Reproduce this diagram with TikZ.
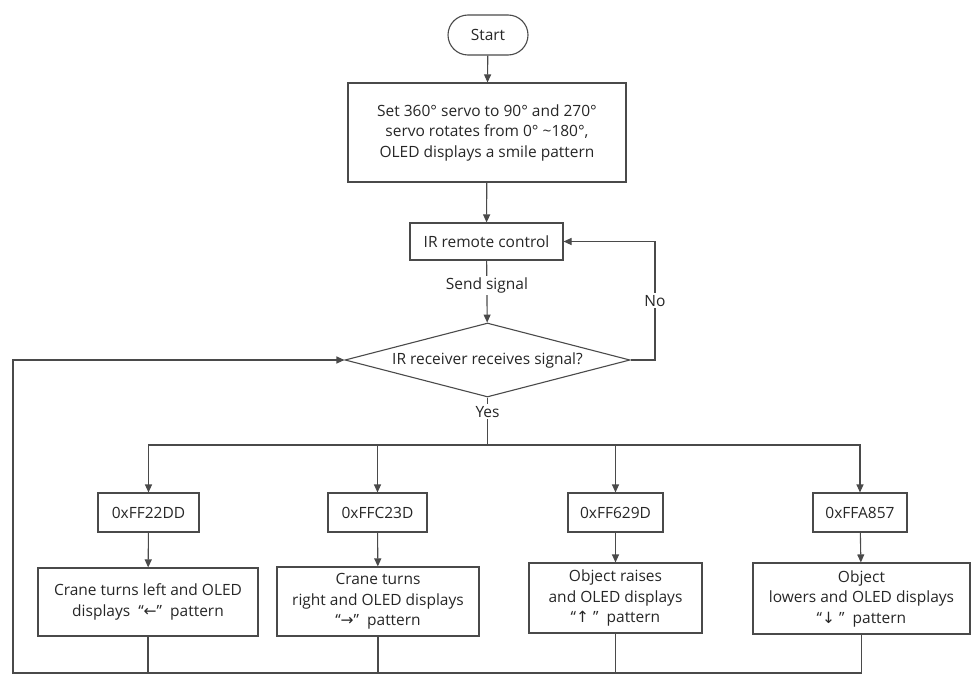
\documentclass[tikz,border=0pt]{standalone}
\usepackage{fontspec}
\setmainfont{Open Sans}
\newfontfamily\arrowfont{DejaVu Sans}
\usetikzlibrary{shapes.geometric,arrows.meta}
\definecolor{ink}{HTML}{262626}
\definecolor{edge}{HTML}{4A4A4A}
\newcommand{\arr}[1]{{\arrowfont #1}}

\begin{document}
\begin{tikzpicture}[x=1pt,y=-1pt,
  every node/.style={font=\fontsize{15.5}{20.5}\selectfont, text=ink},
  box/.style={draw=edge, line width=1.1pt, rectangle, inner sep=0pt, align=center},
  terminal/.style={box, rounded corners=20pt},
  decision/.style={draw=edge, line width=1.1pt, diamond, inner sep=0pt, shape aspect=3.85},
  link/.style={draw=edge, line width=1.1pt},
  flow/.style={link, -{Triangle[length=8pt,width=7pt]}},
  lbl/.style={fill=white, inner sep=2pt}]

\useasboundingbox (0,0) rectangle (978,685);

% main column
\node[terminal, minimum width=80pt, minimum height=40pt] (start) at (488,35) {Start};
\node[box, minimum width=278pt, minimum height=99pt] (setup) at (487,132.5)
  {Set 360° servo to 90° and 270°\\ servo rotates from 0° \textasciitilde180°,\\ OLED displays a smile pattern};
\node[box, minimum width=153pt, minimum height=37pt] (remote) at (486.5,241.5) {IR remote control};
\node[decision, minimum width=285pt, minimum height=74pt] (recv) at (487.5,360) {IR receiver receives signal?};

% key codes
\node[box, minimum width=101pt, minimum height=39pt] (k1) at (148.5,512.5) {0xFF22DD};
\node[box, minimum width=99pt, minimum height=39pt]  (k2) at (377.5,512.5) {0xFFC23D};
\node[box, minimum width=95pt, minimum height=39pt]  (k3) at (615.5,512.5) {0xFF629D};
\node[box, minimum width=94pt, minimum height=39pt]  (k4) at (860,512.5) {0xFFA857};

% actions
\node[box, minimum width=220pt, minimum height=68pt] (a1) at (148,602)
  {Crane turns left and OLED\\ displays \ “\arr{←}” \ pattern};
\node[box, minimum width=202pt, minimum height=69pt] (a2) at (378,601.5)
  {Crane turns\\ right and OLED displays\\ “\arr{→}” \ pattern};
\node[box, minimum width=173pt, minimum height=70pt] (a3) at (615.5,598)
  {Object raises\\ and OLED displays\\ “\arr{↑} ” \ pattern};
\node[box, minimum width=217pt, minimum height=71pt] (a4) at (861.5,598.5)
  {Object\\ lowers and OLED displays\\ “\arr{↓} ” \ pattern};

% routing points
\coordinate (bus) at (487.5,445);
\coordinate (nocorner) at (655,360);
\coordinate (retL) at (13,673);

% main flow
\draw[flow] (start) -- (setup);
\draw[flow] (setup) -- (remote);
\draw[flow] (remote) -- node[lbl, pos=0.4] {Send signal} (recv);
\draw[flow] (recv.east) -- (nocorner) |- node[lbl, pos=0.25] {No} (remote.east);
\draw[link] (recv.south) -- node[lbl, pos=0.3] {Yes} (bus);

% branches
\draw[flow] (bus) -| (k1.north);
\draw[flow] (bus) -| (k2.north);
\draw[flow] (bus) -| (k3.north);
\draw[flow] (bus) -| (k4.north);
\draw[flow] (k1) -- (a1);
\draw[flow] (k2) -- (a2);
\draw[flow] (k3) -- (a3);
\draw[flow] (k4) -- (a4);

% return path
\draw[link] (a1.south) -- (a1.south |- retL);
\draw[link] (a2.south) -- (a2.south |- retL);
\draw[link] (a3.south) -- (a3.south |- retL);
\draw[flow] (a4.south) |- (retL) |- (recv.west);
\end{tikzpicture}
\end{document}
